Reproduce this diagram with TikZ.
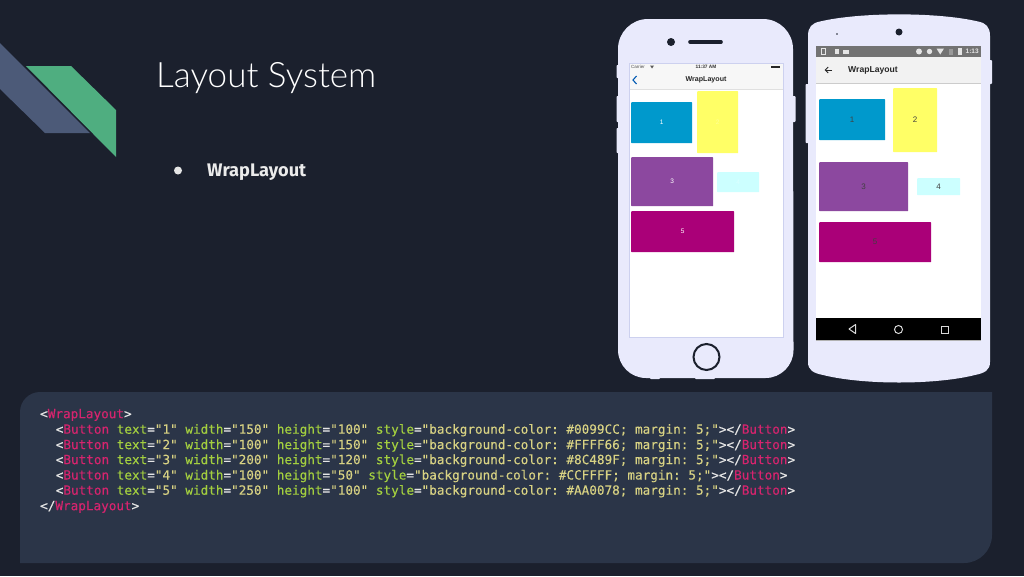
\documentclass[tikz,border=0pt]{standalone}
\usepackage{fontspec}
\usetikzlibrary{arrows.meta}
\setmainfont{Lato}
\newfontfamily\titlefont{Lato Light}
\newfontfamily\bodyfont{Fira Sans}
\newfontfamily\uifont{Liberation Sans}
\newfontfamily\codefont[FakeBold=0.25]{DejaVu Sans Mono}
\definecolor{bgc}{HTML}{1B202D}
\definecolor{panelc}{HTML}{2B3548}
\definecolor{slatec}{HTML}{4C5A78}
\definecolor{greenc}{HTML}{4FAE80}
\definecolor{phonec}{HTML}{E9EAFC}
\definecolor{rimc}{HTML}{CDD1EF}
\definecolor{tagc}{HTML}{D6246E}
\definecolor{attrc}{HTML}{A3CF3F}
\definecolor{strc}{HTML}{D8D283}
\definecolor{punc}{HTML}{E6E6E6}
\definecolor{bluec}{HTML}{0099CC}
\definecolor{yellowc}{HTML}{FFFF66}
\definecolor{purplec}{HTML}{8C489F}
\definecolor{cyanc}{HTML}{CCFFFF}
\definecolor{magc}{HTML}{AA0078}
\newcommand{\Tg}[1]{\textcolor{tagc}{#1}}
\newcommand{\At}[1]{\textcolor{attrc}{#1}}
\newcommand{\St}[1]{\textcolor{strc}{#1}}
\newcommand{\btnline}[5]{<\Tg{Button} \At{text}=\St{"#1"} \At{width}=\St{"#2"} \At{height}=\St{"#3"}#4\At{style}=\St{"background-color: \##5; margin: 5;"}>{}</\Tg{Button}>}
\tikzset{
  code/.style={anchor=base west,inner sep=0pt,text=punc,font=\codefont\frenchspacing\fontsize{12.66}{15}\selectfont},
  uibtn/.style={inner sep=0pt,rounded corners=0.6pt,font=\uifont\fontsize{6.5}{8}\selectfont},
  iostxt/.style={uibtn,text=white},
  droidtxt/.style={uibtn,font=\uifont\fontsize{8}{9}\selectfont,text=black!75},
  bump/.style={fill=phonec,rounded corners=0.8pt},
  glyph/.style={line width=1pt,draw=white!85!black}
}
\begin{document}
\begin{tikzpicture}[x=1pt,y=-1pt]
\useasboundingbox[fill=bgc] (0,0) rectangle (1024,576);
% logo
\fill[slatec] (0,43) -- (90,133) -- (45,133) -- (0,89) -- cycle;
\fill[greenc] (26,66) -- (71,66) -- (116,110) -- (116,157) -- cycle;
% title
\node[anchor=base west,inner sep=0pt,text=white,font=\titlefont\fontsize{35}{40}\selectfont] (title) at (156,87) {Layout System};
\node[inner sep=0pt,circle,fill=white!90!black,minimum size=8pt] (bullet) at (178,170.5) {};
\node[anchor=base west,inner sep=0pt,text=white!92!black,font=\bodyfont\bfseries\fontsize{18.2}{20}\selectfont] (wrap) at (207,176.5) {WrapLayout};
% code panel
\fill[panelc] (20,412) arc[start angle=180,end angle=270,radius=20] -- (992,392) -- (992,535) arc[start angle=0,end angle=90,radius=28] -- (20,563) -- cycle;
\node[code] (c1) at (40,418.2) {<\Tg{WrapLayout}>};
\node[code] (c2) at (55.6,433.7) {\btnline{1}{150}{100}{ }{0099CC}};
\node[code] (c3) at (55.6,449.1) {\btnline{2}{100}{150}{ }{FFFF66}};
\node[code] (c4) at (55.6,464.1) {\btnline{3}{200}{120}{ }{8C489F}};
\node[code] (c5) at (55.6,479.5) {\btnline{4}{100}{50}{ }{CCFFFF}};
\node[code] (c6) at (55.6,494.7) {\btnline{5}{250}{100}{ }{AA0078}};
\node[code] (c7) at (40,510.2) {</\Tg{WrapLayout}>};
% iPhone
\fill[bump] (616.5,65) rectangle (620,78);
\fill[bump] (616.5,96) rectangle (620,122);
\fill[bump] (616.5,128) rectangle (620,153);
\fill[bump] (792,96) rectangle (795.5,122);
\fill[bump] (650,376) rectangle (660,379);
\fill[bump] (695,376) rectangle (715,379);
\fill[phonec] (618,49) arc[start angle=180,end angle=270,radius=30] -- (763,19) arc[start angle=270,end angle=360,radius=30] -- (793.5,350) arc[start angle=0,end angle=90,radius=28] -- (646,378) arc[start angle=90,end angle=180,radius=28] -- cycle;
\fill[bgc] (671,42) circle[radius=4];
\draw[bgc,line width=3.6pt,line cap=round] (690,42) -- (721,42);
\draw[bgc,line width=2pt,fill=none] (706.5,357) circle[radius=13];
\fill[white,draw=rimc,line width=0.9pt] (629,63) rectangle (783,337);
\fill[white!97!black] (629.5,63.5) rectangle (782.5,89);
\draw[black!12,line width=0.5pt] (629.5,89.3) -- (782.5,89.3);
\node[anchor=west,inner sep=0pt,text=black!70,font=\uifont\fontsize{4.5}{5}\selectfont] (carrier) at (631,66.8) {Carrier};
\node[inner sep=0pt,text=black!80,font=\uifont\bfseries\fontsize{4.8}{5}\selectfont] (iostime) at (706,66.8) {11:37 AM};
\fill[black!85] (771,65.5) rectangle (780,68.2);
\fill[black!65] (650,65.5) -- (654,65.5) -- (652,68.5) -- cycle;
\node[inner sep=0pt,text=black!85,font=\uifont\bfseries\fontsize{7.1}{9}\selectfont] (iostitle) at (706,80) {WrapLayout};
\draw[blue!50!cyan!70!black,line width=1.1pt] (636.5,76) -- (633,80) -- (636.5,84);
\node[fill=bluec,minimum width=61pt,minimum height=41pt,inner sep=0pt,anchor=north west,iostxt] (i1) at (631,102) {1};
\node[fill=yellowc,minimum width=41pt,minimum height=62pt,inner sep=0pt,anchor=north west,iostxt,text=yellowc!70!white] (i2) at (697,91) {2};
\node[fill=purplec,minimum width=82pt,minimum height=49pt,inner sep=0pt,anchor=north west,iostxt] (i3) at (631,157) {3};
\node[fill=cyanc,minimum width=42pt,minimum height=20pt,inner sep=0pt,anchor=north west,iostxt,text=cyanc!70!white] (i4) at (717,172) {4};
\node[fill=magc,minimum width=103pt,minimum height=41pt,inner sep=0pt,anchor=north west,iostxt] (i5) at (631,211) {5};
% Android
\fill[bump] (805.5,84) rectangle (810,143);
\fill[bump] (988,60) rectangle (992,84);
\fill[phonec!99!white] (808,36) .. controls (808,27) and (812,23) .. (820,21.5) .. controls (860,12) and (938,12) .. (978,21.5) .. controls (986,23) and (990,27) .. (990,36) -- (990,362) .. controls (990,370) and (985,373) .. (975,375) .. controls (935,385) and (863,385) .. (823,375) .. controls (813,373) and (808,370) .. (808,362) -- cycle;
\fill[bgc] (899,32) circle[radius=3.5];
\fill[bgc] (837,34) circle[radius=0.9];
\fill[white] (816,46) rectangle (981,340);
\fill[black!55] (816,46) rectangle (981,57);
\fill[white!95!black] (816,57) rectangle (981,83);
\draw[black!20,line width=0.6pt] (816,83.2) -- (981,83.2);
\draw[white!90!black,line width=0.6pt] (821.5,48) rectangle (825,54.5);
\fill[white!90!black] (834.5,49) rectangle (839,53.5);
\fill[white!90!black] (843,49.5) rectangle (848.5,54);
\fill[white!90!black] (919,51.5) circle[radius=3];
\fill[white!90!black] (929.5,51.5) circle[radius=2.7];
\fill[white!90!black] (936.5,48.5) -- (944,48.5) -- (940.2,54.5) -- cycle;
\fill[white!60!black] (949,48.5) rectangle (952.5,54.5);
\fill[white!90!black] (958,48) rectangle (961.5,54.5);
\node[anchor=west,inner sep=0pt,text=white!90!black,font=\uifont\bfseries\fontsize{6.5}{7}\selectfont] (droidtime) at (965.5,51.5) {1:13};
\node[anchor=west,inner sep=0pt,text=black!85,font=\uifont\bfseries\fontsize{8.6}{10}\selectfont] (droidtitle) at (848,70.5) {WrapLayout};
\draw[black!85,line width=1pt,-{Straight Barb[length=3pt,width=6pt]}] (832,70) -- (824.5,70);
\fill[black] (816,318) rectangle (981,340);
\draw[black!30,line width=0.5pt] (816,340) -- (981,340);
\draw[white!85!black,line width=1pt,line join=round] (855.5,324.5) -- (855.5,333.5) -- (849,329) -- cycle;
\draw[glyph] (898.5,329.5) circle[radius=4];
\draw[glyph] (941.5,326) rectangle (948,333);
\node[fill=bluec,minimum width=66pt,minimum height=41pt,inner sep=0pt,anchor=north west,droidtxt] (d1) at (819,99) {1};
\node[fill=yellowc,minimum width=44pt,minimum height=64pt,inner sep=0pt,anchor=north west,droidtxt] (d2) at (893,88) {2};
\node[fill=purplec,minimum width=89pt,minimum height=49pt,inner sep=0pt,anchor=north west,droidtxt] (d3) at (819,162) {3};
\node[fill=cyanc,minimum width=43pt,minimum height=17pt,inner sep=0pt,anchor=north west,droidtxt] (d4) at (917,178) {4};
\node[fill=magc,minimum width=112pt,minimum height=40pt,inner sep=0pt,anchor=north west,droidtxt] (d5) at (819,222) {5};
\end{tikzpicture}
\end{document}
